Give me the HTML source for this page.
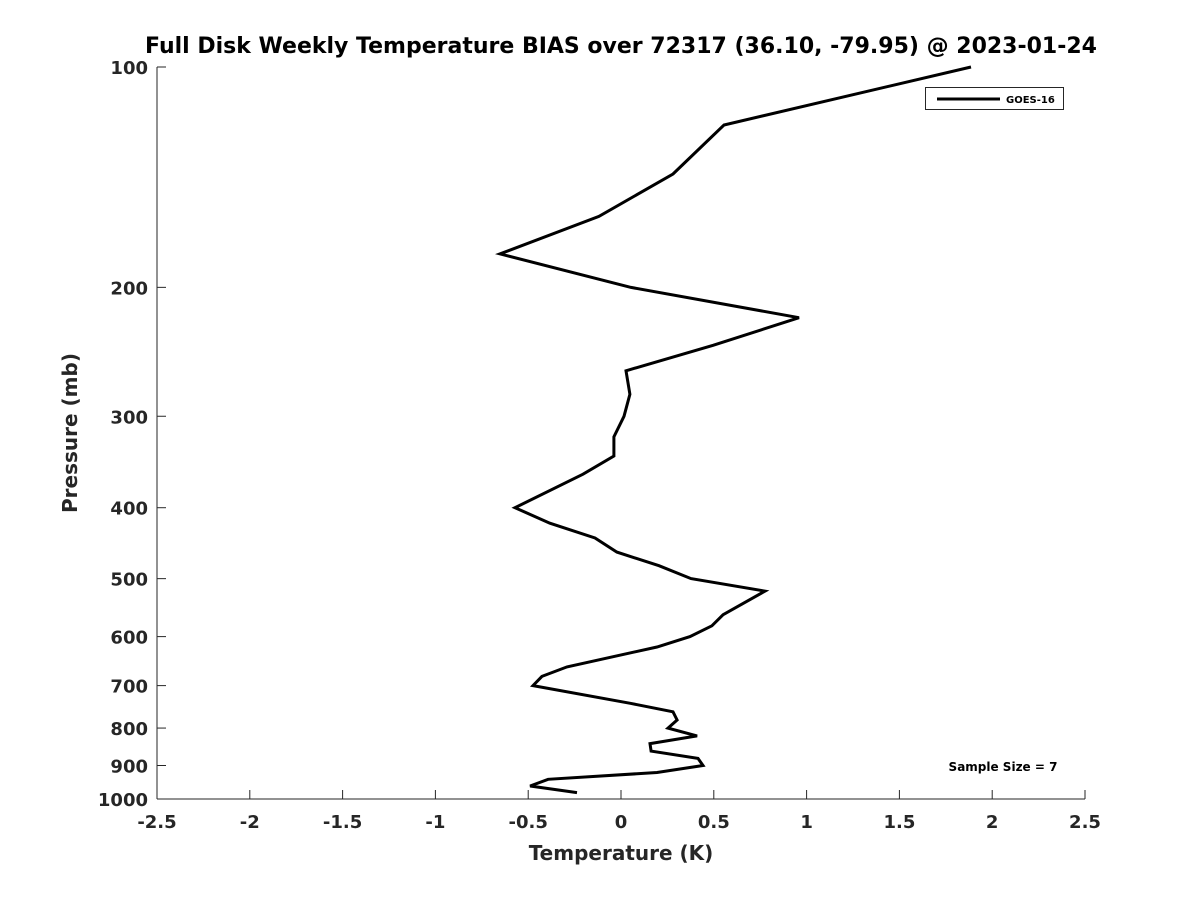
<!DOCTYPE html>
<html><head><meta charset="utf-8"><style>
html,body{margin:0;padding:0;background:#fff;}
svg{display:block;font-family:"DejaVu Sans","Liberation Sans",sans-serif;font-weight:bold;}
</style></head><body>
<svg id="chart" width="1200" height="900" viewBox="0 0 1200 900" xmlns="http://www.w3.org/2000/svg">
<rect width="1200" height="900" fill="#fff"/>
<text x="621" y="53" text-anchor="middle" font-size="22" fill="#000">Full Disk Weekly Temperature BIAS over 72317 (36.10, -79.95) @ 2023-01-24</text>
<g id="axes"></g>
<g id="series"></g>
<text x="621" y="860" text-anchor="middle" font-size="20" fill="#262626">Temperature (K)</text>
<text transform="translate(77,433) rotate(-90)" text-anchor="middle" font-size="20" fill="#262626">Pressure (mb)</text>
<g>
<rect x="925.5" y="87.5" width="138" height="22" fill="#fff" stroke="#262626" stroke-width="1"/>
<line x1="937" y1="99" x2="1000" y2="99" stroke="#000" stroke-width="3"/>
<text x="1006" y="103" font-size="10" fill="#000">GOES-16</text>
</g>
<text x="1003" y="771" text-anchor="middle" font-size="12" fill="#000">Sample Size = 7</text>
</svg>
<script>
const xTicks = [-2.5,-2,-1.5,-1,-0.5,0,0.5,1,1.5,2,2.5];
const yTicks = [100,200,300,400,500,600,700,800,900,1000];
const temps = [1.886,0.555,0.28,-0.119,-0.652,0.054,0.959,0.496,0.027,0.048,0.016,-0.038,-0.038,-0.205,-0.571,-0.383,-0.140,-0.022,0.205,0.377,0.776,0.550,0.490,0.372,0.194,-0.291,-0.426,-0.474,0.05,0.280,0.302,0.253,0.410,0.156,0.162,0.415,0.442,0.194,-0.393,-0.490,-0.237];
const pressures = [100,120,140,160,180,200,220,240,260,280,300,320,340,360,400,420,440,460,480,500,520,560,580,600,620,660,680,700,740,760,780,800,820,840,860,880,900,920,940,960,980];

const X0=157,X1=1085,Y0=67,Y1=799;
function xs(v){return X0+(v+2.5)/5*(X1-X0);}
function ys(p){return Y0+Math.log10(p/100)*(Y1-Y0);}
const NS="http://www.w3.org/2000/svg";
const axes=document.getElementById('axes');
function mk(tag,attrs,parent){const e=document.createElementNS(NS,tag);for(const k in attrs)e.setAttribute(k,attrs[k]);parent.appendChild(e);return e;}

let a=mk('line',{x1:X0,y1:Y0,x2:X0,y2:Y1,stroke:'#262626','stroke-width':1},axes);


a=mk('line',{x1:X0,y1:Y1,x2:X1,y2:Y1,stroke:'#262626','stroke-width':1},axes);



xTicks.forEach(v=>{
  const x=xs(v);
  const t=mk('line',{x1:x,y1:Y1,x2:x,y2:Y1-9,stroke:'#262626','stroke-width':1},axes);
  
  
  const l=mk('text',{x:x,y:828,'text-anchor':'middle','font-size':18,fill:'#262626'},axes);
  l.textContent=String(v);
  
  
});
yTicks.forEach(p=>{
  const y=ys(p);
  const t=mk('line',{x1:X0,y1:y,x2:X0+9,y2:y,stroke:'#262626','stroke-width':1},axes);
  
  
  const l=mk('text',{x:148,y:y+7,'text-anchor':'end','font-size':18,fill:'#262626'},axes);
  l.textContent=String(p);
  
  
});
const pts=temps.map((t,i)=>xs(t).toFixed(1)+','+ys(pressures[i]).toFixed(1)).join(' ');
const line=mk('polyline',{points:pts,fill:'none',stroke:'#000','stroke-width':3,'stroke-linejoin':'miter'},document.getElementById('series'));


</script>
</body></html>
